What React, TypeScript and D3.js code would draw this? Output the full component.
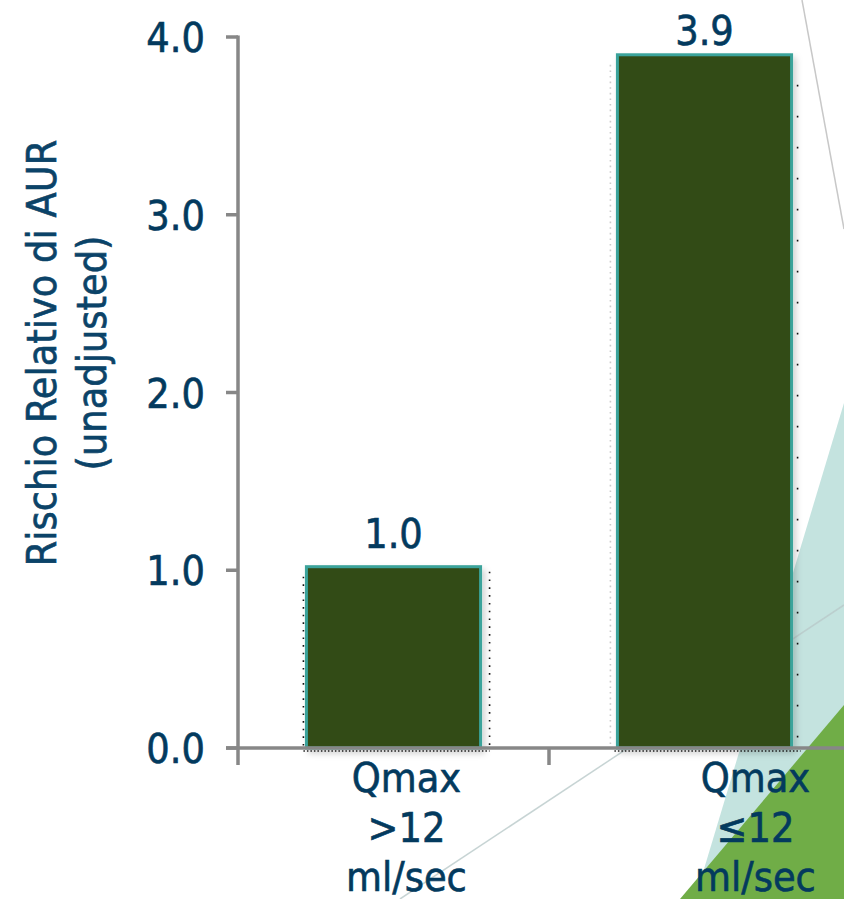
import React from "react";
import * as d3 from "d3";

const categories = ["Qmax >12 ml/sec", "Qmax ≤12 ml/sec"];
const categoryLines = [["Qmax", ">12", "ml/sec"], ["Qmax", "≤12", "ml/sec"]];
const values = [1.02, 3.9];
const yTicks = [0, 1, 2, 3, 4];
const yTitleLines = ["Rischio Relativo di AUR", "(unadjusted)"];

const W = 844;
const H = 899;
const FONT = "'DejaVu Sans Condensed', 'DejaVu Sans', sans-serif";
const TEXT = "#033a5e";
const AXIS = "#878787";
const labelOffsets = [13, 51];

const textProps = {
  fontFamily: FONT,
  fontStretch: "condensed",
  fontSize: 41,
  fill: TEXT,
  stroke: TEXT,
  strokeWidth: 0.6,
} as const;

export default function App() {
  const y = d3.scaleLinear().domain([0, 4]).range([748, 37]);
  const x = d3
    .scaleBand<string>()
    .domain(categories)
    .range([238, 860])
    .paddingInner(0.44)
    .paddingOuter(0.22);
  const step = x.step();
  const slotStart = (c: string) => x(c)! - step * 0.22;
  const x0 = 238;

  return (
    <svg
      width={W}
      height={H}
      style={{ position: "absolute", left: 0, top: 0, background: "#fff" }}
    >
      <defs>
        <filter id="sh" x="-10%" y="-10%" width="130%" height="130%">
          <feDropShadow dx="3" dy="4" stdDeviation="3" floodColor="#000" floodOpacity="0.18" />
        </filter>
      </defs>
      {/* background decoration */}
      <polygon points={`844,403 695,${H} 844,${H}`} fill="#c4e3df" />
      <polygon points={`844,705 680,${H} 844,${H}`} fill="#70ad47" />
      <line x1={802} y1={0} x2={844} y2={229} stroke="#c8c8c8" strokeWidth={1.5} />
      <line x1={400} y1={H} x2={844} y2={605} stroke="#b9c9c9" strokeOpacity={0.8} strokeWidth={1.5} />

      {/* dotted outlines */}
      {categories.map((c, i) => {
        const bx = x(c)!;
        const bw = x.bandwidth();
        const top = y(values[i]);
        return (
          <g key={"d" + c}>
            <line
              x1={bx - (i === 0 ? 3 : 7)}
              x2={bx - (i === 0 ? 3 : 7)}
              y1={top + 10}
              y2={y(0)}
              stroke={i === 0 ? "#111" : "#ccc"}
              strokeWidth={1.6}
              strokeDasharray={i === 0 ? "1.6,6" : "1.6,4"}
            />
            <line
              x1={bx + bw + (i === 0 ? 9 : 6)}
              x2={bx + bw + (i === 0 ? 9 : 6)}
              y1={top + (i === 0 ? 5 : 30)}
              y2={y(0)}
              stroke="#111"
              strokeWidth={1.6}
              strokeDasharray={i === 0 ? "1.6,6.2" : "1.6,29.4"}
            />
            <line
              x1={bx - 3}
              x2={bx + bw + 9}
              y1={y(0) + 3}
              y2={y(0) + 3}
              stroke="#222"
              strokeWidth={1.4}
              strokeDasharray="1.5,2"
            />
          </g>
        );
      })}

      {/* bars */}
      {categories.map((c, i) => (
        <rect
          key={c}
          x={x(c)!}
          y={y(values[i])}
          width={x.bandwidth()}
          height={y(0) - y(values[i])}
          fill="#324c17"
          stroke="#3aa39b"
          strokeWidth={3}
          filter="url(#sh)"
        />
      ))}

      {/* axes */}
      <line x1={x0} x2={x0} y1={y(4) - 1.5} y2={765} stroke={AXIS} strokeWidth={3.5} />
      <line x1={226} x2={W} y1={y(0)} y2={y(0)} stroke={AXIS} strokeWidth={3.5} />
      {yTicks.map((t) => (
        <g key={t}>
          <line x1={226} x2={x0} y1={y(t)} y2={y(t)} stroke={AXIS} strokeWidth={3.5} />
          <text x={205} y={y(t) + 15} textAnchor="end" {...textProps}>
            {t.toFixed(1)}
          </text>
        </g>
      ))}
      {categories.map((c) => (
        <line
          key={"t" + c}
          x1={slotStart(c) + step}
          x2={slotStart(c) + step}
          y1={y(0)}
          y2={765}
          stroke={AXIS}
          strokeWidth={3.5}
        />
      ))}

      {/* value labels */}
      {categories.map((c, i) => (
        <text
          key={"v" + c}
          x={x(c)! + x.bandwidth() / 2}
          y={Math.max(y(values[i]) - 19, 45)}
          textAnchor="middle"
          {...textProps}
        >
          {values[i].toFixed(1)}
        </text>
      ))}

      {/* category labels */}
      {categories.map((c, i) => (
        <text key={"c" + c} textAnchor="middle" {...textProps}>
          {categoryLines[i].map((l, j) => (
            <tspan key={j} x={slotStart(c) + step / 2 + labelOffsets[i]} y={792 + j * 49.5}>
              {l}
            </tspan>
          ))}
        </text>
      ))}

      {/* y title */}
      <g transform="translate(0,353) rotate(-90)">
        {yTitleLines.map((l, j) => (
          <text
            key={j}
            x={0}
            y={56 + j * 50}
            textAnchor="middle"
            {...textProps}
            fill="#0b4368"
            stroke="#0b4368"
          >
            {l}
          </text>
        ))}
      </g>
    </svg>
  );
}
